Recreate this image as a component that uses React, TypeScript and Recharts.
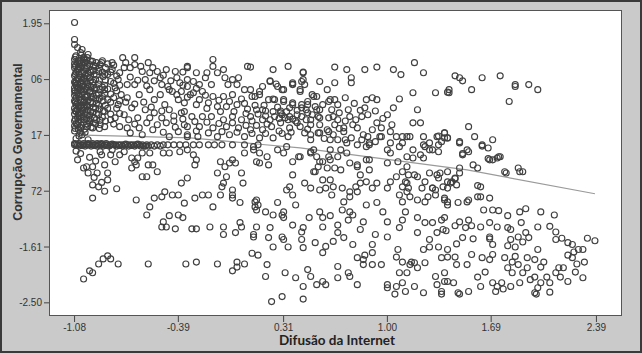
import React from 'react';
import { ScatterChart, Scatter, XAxis, YAxis } from 'recharts';

const xTicks = [-1.08, -0.39, 0.31, 1.0, 1.69, 2.39];
const xTickLabels = ['-1.08', '-0.39', '0.31', '1.00', '1.69', '2.39'];
const yTicks = [1.95, 1.06, 0.17, -0.72, -1.61, -2.5];
const yTickLabels = ['1.95', '06', '17', '72', '-1.61', '-2.50'];

const fitX = [-1.08, -0.31, 0.42, 1.53, 2.38];
const fitY = [0.18, 0.13, -0.03, -0.38, -0.76];

type P = [number, number];

const leftBlock: P[] = [
  [-1.08,1.97],[-1.08,1.70],[-1.08,1.62],[-1.06,1.57],[-1.04,1.49],[-1.03,1.54],[-0.99,1.46],[-1.02,1.41],
  [-1.08,1.38],[-1.08,1.25],[-1.08,1.12],[-1.08,1.02],[-1.08,0.93],[-1.08,0.81],[-1.08,0.72],[-1.08,0.60],[-1.08,0.51],[-1.08,0.40],[-1.08,0.32],[-1.08,1.31],[-1.08,0.88],
  [-1.07,1.44],[-1.07,1.18],[-1.07,0.97],[-1.07,0.76],[-1.07,0.55],[-1.07,0.36],[-1.07,1.05],[-1.07,0.66],
  [-1.06,1.33],[-1.06,1.21],[-1.06,1.09],[-1.06,0.99],[-1.06,0.85],[-1.06,0.69],[-1.06,0.58],[-1.06,0.45],[-1.06,0.34],[-1.06,0.92],
  [-1.05,1.40],[-1.05,1.15],[-1.05,0.79],[-1.05,0.62],[-1.05,0.48],[-1.05,1.27],
  [-1.04,1.36],[-1.04,1.24],[-1.04,1.10],[-1.04,1.01],[-1.04,0.90],[-1.04,0.74],[-1.04,0.64],[-1.04,0.53],[-1.04,0.42],[-1.04,0.29],
  [-1.03,1.29],[-1.03,1.05],[-1.03,0.83],[-1.03,0.57],[-1.03,0.95],
  [-1.02,1.19],[-1.02,1.07],[-1.02,0.96],[-1.02,0.87],[-1.02,0.70],[-1.02,0.61],[-1.02,0.47],[-1.02,0.38],
  [-1.01,1.33],[-1.01,1.13],[-1.01,0.78],[-1.01,0.52],
  [-1.00,1.25],[-1.00,1.03],[-1.00,0.92],[-1.00,0.81],[-1.00,0.66],[-1.00,0.44],[-1.00,0.35],[-1.00,1.37],
  [-0.99,1.16],[-0.99,0.98],[-0.99,0.73],[-0.99,0.57],
  [-0.98,1.30],[-0.98,1.09],[-0.98,0.86],[-0.98,0.62],[-0.98,0.49],[-0.98,0.40],
  [-0.97,1.21],[-0.97,0.94],[-0.97,0.77],[-0.97,0.30],
  [-0.96,1.35],[-0.96,1.02],[-0.96,0.84],[-0.96,0.68],[-0.96,0.54],
  [-0.95,1.14],[-0.95,0.91],[-0.95,0.45],
  [-0.94,1.27],[-0.94,1.06],[-0.94,0.75],[-0.94,0.60],[-0.94,0.36],
  [-0.92,1.19],[-0.92,0.99],[-0.92,0.83],[-0.92,0.65],[-0.92,0.50],
  [-0.91,1.30],[-0.91,0.90],[-0.91,0.41],
  [-0.89,1.11],[-0.89,0.72],[-0.89,0.56],
  [-0.88,0.97],[-0.88,0.84],[-0.88,0.31],
  [-1.08,0.24],[-1.04,0.22],[-1.03,0.18],[-0.96,0.29],[-0.98,0.37],[-0.91,0.34],[-0.84,0.42],[-0.78,0.31],
  [-0.73,0.29],[-0.71,0.21],[-0.65,0.29],[-0.60,0.37],[-0.53,0.34],[-0.47,0.37],[-0.45,0.15],[-0.39,0.23],
  [-0.35,0.34],[-0.33,0.15],[-0.63,0.18],[-1.07,0.12],[-1.05,0.16],[-1.01,0.22],[-0.99,0.10],
];

const leftBlockInfill: P[] = [
  [-1.075,1.42],[-1.075,1.28],[-1.075,1.15],[-1.075,1.00],[-1.075,0.85],[-1.075,0.70],[-1.075,0.56],[-1.075,0.43],[-1.075,0.28],
  [-1.055,1.36],[-1.055,1.23],[-1.055,1.06],[-1.055,0.94],[-1.055,0.82],[-1.055,0.64],[-1.055,0.51],[-1.055,0.39],[-1.055,0.27],
  [-1.035,1.45],[-1.035,1.33],[-1.035,1.18],[-1.035,1.02],[-1.035,0.89],[-1.035,0.73],[-1.035,0.60],[-1.035,0.46],[-1.035,0.33],
  [-1.015,1.39],[-1.015,1.24],[-1.015,1.08],[-1.015,0.91],[-1.015,0.74],[-1.015,0.63],[-1.015,0.42],[-1.015,0.27],
  [-0.995,1.41],[-0.995,1.28],[-0.995,1.11],[-0.995,0.95],[-0.995,0.79],[-0.995,0.64],[-0.995,0.50],[-0.995,0.31],
  [-0.975,1.36],[-0.975,1.18],[-0.975,1.04],[-0.975,0.88],[-0.975,0.70],[-0.975,0.55],[-0.975,0.43],
  [-0.955,1.29],[-0.955,1.20],[-0.955,0.97],[-0.955,0.79],[-0.955,0.62],[-0.955,0.37],
  [-0.935,1.33],[-0.935,1.13],[-0.935,0.93],[-0.935,0.81],[-0.935,0.68],[-0.935,0.52],[-0.935,0.42],
  [-0.915,1.24],[-0.915,1.05],[-0.915,0.76],[-0.915,0.59],[-0.915,0.28],
  [-0.895,1.36],[-0.895,1.18],[-0.895,0.94],[-0.895,0.79],[-0.895,0.46],
  [-0.875,1.25],[-0.875,1.05],[-0.875,0.65],[-0.875,0.40],
  [-0.86,1.31],[-0.86,1.14],[-0.86,0.91],[-0.86,0.60],
  [-0.84,1.18],[-0.84,0.83],[-0.84,0.70],[-0.84,0.51],
  [-0.82,1.29],[-0.82,1.00],[-0.82,0.77],[-0.82,0.35],
  [-0.80,1.12],[-0.80,0.88],[-0.80,0.60],
  [-0.78,0.97],[-0.78,0.72],[-0.78,0.52],
];

const zeroBand: P[] = [
  [-1.08,0.02],[-1.06,0.02],[-1.04,0.02],[-1.02,0.02],[-1.00,0.02],[-0.98,0.02],[-0.96,0.02],[-0.94,0.02],
  [-0.92,0.02],[-0.90,0.02],[-0.88,0.02],[-0.86,0.02],[-0.84,0.02],[-0.82,0.02],[-0.81,0.02],[-0.79,0.02],
  [-0.77,0.02],[-0.75,0.02],[-0.73,0.02],[-0.71,0.02],[-0.69,0.02],[-0.67,0.02],[-0.65,0.02],[-0.63,0.02],
  [-0.60,0.02],[-0.57,0.02],[-0.53,0.02],[-0.49,0.02],[-0.46,0.02],[-0.42,0.02],[-0.38,0.02],[-0.34,0.02],
  [-0.29,0.02],[-0.25,0.02],[-0.19,0.02],[-0.15,0.02],[-0.10,0.02],[-0.03,0.02],[0.05,0.02],[0.14,0.02],
  [-1.07,0.03],[-1.03,0.01],[-0.99,0.03],[-0.95,0.01],[-0.91,0.03],[-0.87,0.01],[-0.83,0.03],[-0.78,0.01],
  [-0.74,0.03],[-0.70,0.01],[-0.66,0.03],
  [-1.05,0.00],[-1.01,0.00],[-0.97,0.00],[-0.93,0.00],[-0.89,0.00],[-0.85,0.00],[-0.80,0.00],[-0.76,0.00],
  [-0.72,0.00],[-0.68,0.00],[-0.64,0.00],[-0.62,0.00],[-0.61,0.00],[-0.59,0.00],[-0.55,0.00],[-0.51,0.00],
  [-1.08,0.04],[-1.05,0.04],[-1.02,0.04],[-0.99,0.04],[-0.96,0.04],[-0.93,0.04],[-0.90,0.04],[-0.87,0.04],
];

const lowerLeft: P[] = [
  [-1.06,-0.22],[-1.02,-0.35],[-1.00,-0.33],[-0.96,-0.33],[-0.93,-0.43],[-0.99,-0.43],[-0.96,-0.62],[-0.92,-0.65],
  [-0.96,-0.83],[-0.86,-0.54],[-0.86,-0.43],[-0.90,-0.14],[-0.84,-0.14],[-0.81,-0.25],[-0.78,-0.14],[-0.80,-0.68],
  [-0.70,-0.19],[-0.68,-0.25],[-0.70,-0.35],[-0.67,-0.30],[-0.63,-0.11],[-0.58,-0.11],[-0.59,-0.30],[-0.56,-0.30],
  [-0.53,-0.41],[-0.63,-0.49],[-0.60,-0.49],[-0.67,-0.86],[-0.58,-0.97],[-0.60,-1.10],[-0.55,-0.83],[-0.50,-0.81],
  [-0.48,-0.73],[-0.43,-0.78],[-0.39,-0.78],[-0.37,-0.59],[-0.33,-0.51],[-0.49,-0.11],[-0.45,-0.11],[-0.38,-0.09],
  [-0.33,-0.06],[-0.27,-0.22],[-0.28,-0.30],[-0.47,-1.29],[-0.49,-1.21],[-0.45,-1.11],[-0.39,-1.10],[-0.36,-1.14],
  [-0.41,-1.32],[-0.50,-1.29],[-0.30,-1.32],[-0.27,-1.32],[-0.18,-1.29],[-0.16,-0.97],[-0.11,-0.78],[-0.09,-1.29],
  [-0.09,-1.41],[-0.01,-1.38],[0.03,-1.29],[0.02,-1.22],[0.11,-1.45],[0.10,-1.71],[0.14,-1.74],[-0.19,-0.78],
  [-0.23,-0.78],[-0.28,-0.83],[-0.35,-0.91],[-0.13,-0.43],[-0.07,-0.49],[0.03,-0.43],[0.04,-0.59],[-0.03,-0.70],
  [-0.03,-0.78],[0.02,-0.90],[0.12,-0.97],[0.13,-0.86],[-0.03,-0.22],[-0.01,-0.27],[0.05,-0.11],[-0.11,-0.25],
  [-0.08,-0.33],[-0.05,-0.27],[-0.29,-0.14],[-0.09,-0.59],[-0.10,-0.65],[-0.03,-0.83],
  [-1.02,-2.12],[-0.98,-1.99],[-0.96,-2.02],[-0.92,-1.88],[-0.89,-1.80],[-0.86,-1.75],[-0.84,-1.80],[-0.79,-1.88],
  [-0.59,-1.88],[-0.34,-1.88],[-0.27,-1.85],[-0.13,-1.88],[0.00,-1.85],[0.00,-1.93],[-0.03,-1.99],[0.05,-1.88],
  [-0.91,-0.09],[-0.83,-0.06],[-0.75,-0.09],[-0.66,-0.19],
  [-1.07,-0.08],[-1.04,-0.12],[-0.98,-0.18],[-0.94,-0.24],[-0.88,-0.30],[-0.95,-0.50],[-0.90,-0.58],[-0.88,-0.72],
];

const upperMiddle: P[] = [
  [-0.90,1.33],[-0.83,1.33],[-0.76,1.41],[-0.68,1.41],[-0.68,1.30],[-0.59,1.33],[-0.71,1.25],[-0.78,1.17],
  [-0.63,1.19],[-0.53,1.19],[-0.47,1.22],[-0.41,1.19],[-0.33,1.25],[-0.58,1.17],[-0.51,1.09],[-0.40,1.09],
  [-0.46,0.95],[-0.38,1.01],[-0.33,1.06],
  [-0.88,1.14],[-0.84,1.03],[-0.88,0.90],[-0.81,0.93],[-0.77,0.82],[-0.86,0.74],[-0.79,0.66],[-0.73,0.77],
  [-0.68,0.98],[-0.65,0.82],[-0.61,1.06],[-0.58,0.90],[-0.55,0.74],[-0.70,0.61],[-0.61,0.58],[-0.51,0.82],
  [-0.48,0.66],[-0.43,0.87],[-0.39,0.74],[-0.88,0.55],[-0.81,0.45],[-0.75,0.50],[-0.66,0.45],[-0.55,0.53],
  [-0.45,0.58],[-0.35,0.55],[-0.73,0.98],[-0.79,1.06],[-0.50,0.98],[-0.31,0.82],[-0.83,1.22],[-0.75,1.25],
  [-0.16,1.38],[-0.16,1.27],[0.07,1.27],[-0.09,1.22],[0.24,1.22],[0.34,1.27],[0.44,1.18],[-0.33,1.27],
  [-0.36,1.18],[-0.27,1.17],[-0.20,1.17],[-0.13,1.17],[-0.08,1.09],[-0.03,1.06],[0.01,1.09],[-0.21,1.09],
  [-0.29,1.03],[-0.25,0.98],[-0.33,0.95],[-0.17,0.98],[-0.06,0.98],[0.00,0.98],[0.05,0.90],[0.09,0.90],
  [0.17,0.95],[0.22,1.03],[0.27,0.95],[0.31,0.90],[0.37,0.98],[0.37,1.01],[0.43,1.03],[0.45,0.98],
  [0.55,1.03],[0.42,0.87],[0.51,0.79],[0.53,0.79],[0.60,0.90],[0.61,0.71],[-0.37,0.87],[-0.29,0.85],
  [-0.23,0.87],[-0.16,0.79],[-0.09,0.79],[-0.03,0.82],[0.03,0.75],[0.10,0.79],[0.15,0.82],[0.21,0.74],
  [0.25,0.74],[0.31,0.74],[0.37,0.69],[0.43,0.66],[0.47,0.66],[-0.35,0.69],[-0.27,0.66],[-0.19,0.69],
  [-0.13,0.63],[-0.07,0.63],[0.00,0.66],[0.07,0.59],[0.13,0.58],[0.19,0.56],[0.24,0.55],[0.29,0.56],
  [0.33,0.55],[0.32,0.45],[0.35,0.47],[0.40,0.50],[0.43,0.47],[0.50,0.50],[0.53,0.58],[0.55,0.45],
  [-0.37,0.53],[-0.30,0.47],[-0.23,0.47],[-0.17,0.47],[-0.09,0.42],[-0.03,0.47],[0.03,0.42],[0.09,0.47],
  [0.17,0.42],[0.22,0.42],[0.29,0.37],[0.35,0.29],[0.42,0.31],[0.49,0.34],[0.60,0.26],[-0.33,0.31],
  [-0.25,0.31],[-0.16,0.29],[-0.07,0.31],[0.01,0.29],[0.09,0.26],[0.17,0.26],[0.23,0.31],[-0.33,0.18],
  [-0.26,0.15],[-0.13,0.15],[-0.05,0.18],[0.05,0.15],[0.15,0.13],[0.24,0.13],[0.34,0.15],
  [0.14,0.51],[0.19,0.48],[0.25,0.47],[0.30,0.50],[0.37,0.43],[0.39,0.40],
  [0.09,1.26],[0.44,1.17],[0.22,1.04],[0.26,0.99],[0.37,0.99],[0.30,0.90],[0.15,0.87],[0.12,0.79],
  [0.24,0.75],[0.31,0.71],[0.37,0.66],[0.43,0.61],[0.17,0.58],[0.29,0.53],[0.34,0.42],[0.47,0.53],
  [0.49,0.42],[0.54,0.47],[0.44,1.06],[0.42,0.90],[0.50,0.82],[0.47,0.71],[0.52,0.63],[0.55,0.58],
  [0.55,0.34],[0.49,0.18],[0.54,0.21],[0.62,0.74],[0.65,0.74],[0.67,0.66],[0.63,0.58],[0.61,0.45],
  [0.64,0.47],[0.67,0.42],[0.65,0.34],[0.61,0.23],[0.65,1.26],[0.65,1.01],[0.73,1.22],[0.76,1.09],
  [0.76,1.01],[0.85,1.22],[0.93,1.26],[0.72,0.77],[0.74,0.58],[0.75,0.47],[0.77,0.34],[0.71,0.29],
  [0.72,0.10],[0.67,0.10],[0.62,0.10],[0.86,0.74],[0.90,0.77],[0.93,0.74],[0.85,0.61],[0.83,0.47],
  [0.87,0.50],[0.80,0.29],[0.84,0.18],[0.90,0.26],[0.96,0.29],[0.96,0.15],[0.88,0.05],[0.86,-0.01],
  [1.04,1.22],[1.09,1.14],[1.08,0.75],[1.04,0.61],[1.03,0.34],[1.02,0.23],[1.06,0.15],[1.10,0.15],
  [1.15,0.15],[1.18,1.33],[1.24,1.17],[1.17,0.85],[1.20,0.58],[1.17,0.37],[1.22,0.37],[1.32,0.85],
  [1.40,0.86],[1.24,0.15],[1.34,0.16],[1.38,0.13],[1.10,0.05],[1.25,-0.01],[1.30,-0.06],
];

const middleInfill: P[] = [
  [-0.74,1.33],[-0.64,1.27],[-0.56,1.25],[-0.49,1.13],[-0.44,1.04],[-0.36,0.97],[-0.27,0.92],[-0.21,0.81],
  [-0.12,0.73],[-0.05,0.71],[0.05,0.68],[0.12,0.65],[0.18,0.65],[0.27,0.62],[0.35,0.61],[0.40,0.57],[0.46,0.58],
  [-0.71,1.10],[-0.66,1.05],[-0.60,0.96],[-0.55,1.04],[-0.45,0.90],[-0.40,0.82],[-0.33,0.78],[-0.25,0.74],
  [-0.20,0.60],[-0.11,0.55],[-0.02,0.55],[0.06,0.52],[0.10,0.40],[0.20,0.35],[0.28,0.44],[0.40,0.37],[0.46,0.42],
  [-0.74,0.70],[-0.68,0.67],[-0.62,0.70],[-0.57,0.62],[-0.50,0.56],[-0.42,0.48],[-0.36,0.43],[-0.28,0.39],
  [-0.20,0.38],[-0.12,0.36],[-0.03,0.37],[0.06,0.33],[0.13,0.33],[0.28,0.24],[0.36,0.22],
  [-0.72,0.42],[-0.68,0.35],[-0.58,0.45],[-0.50,0.45],[-0.42,0.40],[-0.56,0.26],[-0.49,0.22],[-0.41,0.30],
  [-0.27,0.24],[-0.19,0.21],[-0.10,0.23],[0.00,0.22],[0.10,0.20],[0.19,0.20],[0.30,0.20],
  [0.57,0.66],[0.68,0.53],[0.72,0.40],[0.79,0.42],[0.82,0.57],[0.78,0.68],[0.92,0.56],[0.97,0.44],
  [0.93,0.37],[1.00,0.50],[0.58,0.12],[0.76,0.13],[0.92,0.07],[0.68,0.28],[0.47,0.27],
];

const centre: P[] = [
  [0.11,-0.01],[0.15,-0.11],[0.20,-0.17],[0.27,-0.06],[0.33,-0.01],[0.42,-0.17],[0.51,-0.06],[0.49,-0.11],
  [0.53,-0.17],[0.62,-0.06],[0.69,-0.06],[0.73,0.05],
  [0.11,-0.06],[0.13,-0.25],[0.15,-0.27],[0.21,-0.30],[0.31,-0.11],[0.37,-0.25],[0.41,-0.17],[0.49,-0.09],
  [0.55,-0.25],[0.62,-0.22],[0.52,-0.41],[0.60,-0.35],[0.65,-0.35],[0.75,-0.27],[0.80,-0.30],[0.88,-0.22],
  [0.73,-0.11],[1.00,-0.06],[1.00,-0.27],[1.07,-0.25],[1.13,-0.33],[1.10,-0.41],[1.17,-0.19],[1.24,-0.19],
  [1.28,-0.06],[1.34,-0.09],[1.06,-0.49],[1.12,-0.57],[1.14,-0.67],[1.20,-0.49],[1.25,-0.57],[1.28,-0.43],
  [1.33,-0.46],[1.30,-0.67],[1.32,-0.70],[1.37,-0.65],[1.40,-0.57],[0.37,-0.46],[0.35,-0.65],[0.33,-0.70],
  [0.37,-0.78],[0.39,-0.94],[0.27,-0.90],[0.12,-0.89],[0.14,-0.94],[0.13,-1.02],[0.19,-1.05],[0.24,-1.10],
  [0.30,-1.10],[0.31,-1.05],[0.31,-1.14],[0.37,-1.26],[0.44,-1.30],[0.48,-1.14],[0.55,-1.05],[0.57,-1.14],
  [0.62,-1.11],[0.57,-1.29],[0.67,-1.26],[0.70,-1.02],[0.75,-1.05],[0.77,-1.10],[0.74,-1.18],[0.84,-1.21],
  [0.86,-0.94],[0.93,-0.90],[0.97,-1.05],[0.82,-1.33],[1.00,-1.21],[1.10,-1.18],[1.08,-1.30],[1.12,-1.05],
  [1.20,-1.14],[1.25,-1.22],[1.30,-1.22],[1.36,-1.18],[1.20,-1.38],[1.28,-1.49],[1.33,-1.38],[1.37,-1.33],
  [1.40,-1.65],[1.34,-1.61],[1.36,-1.78],[1.28,-1.61],[1.24,-1.65],[1.18,-1.86],[1.15,-1.89],[1.20,-1.94],
  [1.25,-1.86],[1.07,-1.65],[1.06,-1.77],[1.10,-1.85],[1.13,-2.02],[0.92,-1.41],[1.00,-1.45],[0.90,-1.57],
  [0.90,-1.70],[0.85,-1.74],[0.84,-1.81],[0.80,-1.78],[0.77,-1.57],[0.71,-1.46],[0.67,-1.38],[0.64,-1.52],
  [0.59,-1.60],[0.57,-1.70],[0.52,-1.54],[0.44,-1.62],[0.43,-1.49],[0.43,-1.37],[0.30,-1.45],[0.24,-1.61],
  [0.31,-1.49],[0.34,-1.61],[0.22,-1.30],[0.13,-1.29],[0.11,-1.41],[0.21,-1.46],[0.20,-1.89],[0.19,-2.08],
  [0.32,-2.02],[0.39,-2.10],[0.47,-1.97],[0.49,-2.08],[0.44,-2.24],[0.53,-2.21],[0.57,-2.16],[0.59,-2.21],
  [0.67,-1.92],[0.67,-2.10],[0.74,-2.02],[0.75,-2.08],[0.80,-2.21],[0.84,-1.89],[0.90,-1.89],[0.96,-1.89],
  [1.00,-2.21],[1.00,-2.26],[1.06,-2.24],[1.10,-2.18],[1.12,-2.32],[1.18,-2.24],[1.24,-2.34],[1.33,-2.21],
  [1.32,-2.08],[1.38,-2.16],[1.36,-2.32],[1.08,-2.02],[1.16,-1.85],[0.30,-2.40],[0.23,-2.48],[0.44,-2.44],
  [1.05,-2.36],[1.36,-2.36],
  [0.45,0.21],[0.49,0.10],[0.55,0.21],[0.64,0.18],[0.71,0.23],[0.80,0.02],[0.83,0.10],[0.87,0.15],
  [0.88,0.02],[0.95,0.15],[1.02,0.05],[1.13,0.15],[1.08,-0.01],[1.02,-0.11],[1.13,-0.17],[1.17,-0.06],
  [1.22,-0.14],[1.24,0.02],[1.28,0.05],[1.33,0.15],[1.40,0.13],[1.34,0.02],[1.38,0.21],
  [1.34,-0.51],[1.30,-0.67],[1.23,-0.67],[1.27,-0.81],[1.32,-0.78],[1.38,-0.83],[1.40,-0.89],[1.18,-0.46],
  [1.14,-0.46],[1.13,-0.73],[1.02,-0.57],[1.13,-0.59],[1.10,-0.65],[1.08,-0.78],[1.15,-0.81],[1.20,-0.86],
  [1.25,-0.89],[1.10,-0.89],[1.00,-0.67],[0.93,-0.59],[0.90,-0.67],[0.86,-0.57],[0.82,-0.59],[0.79,-0.65],
  [0.80,-0.73],[0.75,-0.73],[0.75,-0.81],[0.71,-0.89],[0.70,-0.67],[0.64,-0.65],[0.63,-0.78],[0.59,-0.67],
  [0.55,-0.70],[0.49,-0.67],[0.45,-0.59],[0.51,-0.41],[0.54,-0.33],[0.57,-0.25],[0.61,-0.17],[0.67,-0.17],
  [0.69,-0.38],[0.62,-0.54],[0.57,-0.54],[0.80,-0.33],[0.86,-0.22],[0.88,-0.38],[0.82,-0.46],
];

const rightSide: P[] = [
  [1.45,1.12],[1.48,1.09],[1.50,1.04],[1.63,1.09],[1.75,1.12],[1.41,0.90],[1.41,0.85],[1.56,0.90],
  [1.85,0.98],[1.85,0.95],[1.94,0.98],[2.00,0.90],[1.81,0.71],[1.54,0.31],[1.38,0.21],[1.40,0.13],
  [1.36,0.07],[1.58,0.15],[1.70,0.10],[1.48,0.07],[1.63,0.00],[1.67,-0.03],[1.50,-0.12],[1.54,-0.09],
  [1.67,-0.20],[1.74,-0.17],
  [1.48,0.05],[1.68,-0.22],[1.57,-0.30],[1.60,-0.35],[1.48,-0.35],[1.40,-0.41],[1.35,-0.43],[1.45,-0.52],
  [1.42,-0.59],[1.40,-0.67],[1.60,-0.63],[1.62,-0.81],[1.68,-0.83],[1.54,-0.86],[1.47,-0.90],[1.38,-0.86],
  [1.40,-0.94],[1.87,-0.35],[1.88,-0.41],[1.79,-0.43],[1.90,-0.41],[1.64,-1.02],[1.70,-1.02],[1.74,-1.03],
  [1.80,-1.11],[1.88,-1.05],[1.92,-1.00],[2.02,-1.05],[2.11,-1.10],[1.54,-1.18],[1.48,-1.21],[1.38,-1.14],
  [1.45,-1.27],[1.52,-1.30],[1.56,-1.27],[1.62,-1.29],[1.68,-1.22],[1.73,-1.29],[1.80,-1.30],[1.82,-1.33],
  [1.89,-1.22],[1.92,-1.38],[2.00,-1.29],[2.08,-1.28],[2.12,-1.37],[2.16,-1.47],[2.33,-1.47],[2.38,-1.51],
  [1.68,-1.45],[1.68,-1.48],[1.70,-1.57],[1.57,-1.48],[1.50,-1.46],[1.39,-1.35],[1.46,-1.56],[1.82,-1.49],
  [1.87,-1.45],[1.90,-1.53],[1.94,-1.46],[2.00,-1.65],[1.85,-1.61],[1.80,-1.59],[2.12,-1.49],[2.20,-1.54],
  [2.23,-1.57],[2.27,-1.65],[2.24,-1.69],[2.20,-1.74],[2.23,-1.78],[2.30,-1.65],[2.31,-1.85],[2.26,-1.88],
  [2.17,-1.94],[2.14,-1.94],[2.12,-2.02],[2.15,-2.09],[2.25,-2.01],[2.20,-2.16],[2.30,-2.10],[2.06,-2.09],
  [2.08,-2.18],[2.02,-2.18],[1.98,-2.09],[1.93,-1.94],[1.87,-1.89],[1.83,-1.85],[1.80,-1.94],[1.83,-2.02],
  [1.90,-2.02],[1.95,-2.13],[1.88,-2.18],[1.82,-2.24],[1.76,-2.18],[1.70,-2.18],[1.73,-2.24],[1.77,-2.28],
  [1.65,-2.01],[1.60,-2.09],[1.62,-2.24],[1.54,-2.32],[1.47,-2.34],[1.68,-1.81],[1.70,-1.73],[1.56,-1.73],
  [1.53,-1.89],[1.46,-1.89],[1.45,-1.77],[1.40,-1.77],[1.38,-2.02],[1.40,-2.16],[1.44,-2.18],[2.00,-2.26],
  [1.98,-2.34],[2.08,-2.33],[1.63,-1.78],[1.78,-1.78],[1.85,-1.76],[1.93,-1.78],[1.98,-1.81],[2.02,-1.93],
  [2.04,-1.85],[1.48,-2.36],[1.72,-2.32],[1.99,-2.36],
  [1.53,-0.06],[1.50,-0.14],[1.63,0.02],[1.70,-0.22],[1.73,-0.19],[1.75,-0.17],[1.48,-0.43],[1.43,-0.57],
  [1.45,-0.51],[1.46,-0.62],[1.53,-0.89],[1.62,-0.65],[1.60,-0.81],[1.78,-0.41],
];

const toPts = (arr: P[]) => arr.map(([x, y]) => ({ x, y }));
const points = toPts([
  ...leftBlock, ...leftBlockInfill, ...zeroBand, ...lowerLeft,
  ...upperMiddle, ...middleInfill, ...centre, ...rightSide,
]);
const fitLine = fitX.map((x, i) => ({ x, y: fitY[i] }));

const fmtX = (v: number) => {
  const i = xTicks.indexOf(v);
  return i >= 0 ? xTickLabels[i] : String(v);
};
const fmtY = (v: number) => {
  const i = yTicks.indexOf(v);
  return i >= 0 ? yTickLabels[i] : String(v);
};

const Ring = (p: any) => (
  <circle cx={p.cx} cy={p.cy} r={3} fill="none" stroke="#404040" strokeWidth={1.15} />
);
const NoShape = () => <g />;
const NoTick = () => <g />;

const tickFont = {
  fontSize: 10,
  fill: '#333',
  fontFamily: '"Liberation Sans Narrow", "Liberation Sans", Arial, sans-serif',
};

export default function App() {
  return (
    <div style={{ position: 'absolute', left: 0, top: 0, width: 642, height: 353, background: '#cacaca', overflow: 'hidden' }}>
      <div style={{ position: 'absolute', left: 49, top: 10, width: 573, height: 306, background: '#fff', boxSizing: 'border-box', border: '1.5px solid #555' }} />
      <ScatterChart
        width={642}
        height={353}
        margin={{ top: 10, right: 20, bottom: 0, left: 0 }}
        style={{ position: 'absolute', left: 0, top: 0 }}
      >
        <XAxis xAxisId="b" dataKey="x" type="number" domain={[-1.25, 2.56]} ticks={xTicks} interval={0}
          tickFormatter={fmtX} height={37} tickSize={6} tickMargin={2} axisLine={false}
          tickLine={{ stroke: '#444' }} tick={tickFont} allowDataOverflow />
        <XAxis xAxisId="t" orientation="top" dataKey="x" type="number" domain={[-1.25, 2.56]} ticks={xTicks} interval={0}
          height={0} mirror tickSize={5} axisLine={false} tickLine={{ stroke: '#444' }} tick={NoTick} allowDataOverflow />
        <YAxis yAxisId="l" dataKey="y" type="number" domain={[-2.71, 2.17]} ticks={yTicks} interval={0}
          tickFormatter={fmtY} width={49} tickSize={5} tickMargin={2} axisLine={false}
          tickLine={{ stroke: '#444' }} tick={tickFont} allowDataOverflow />
        <YAxis yAxisId="r" orientation="right" dataKey="y" type="number" domain={[-2.71, 2.17]} ticks={yTicks} interval={0}
          width={0} mirror tickSize={5} axisLine={false} tickLine={{ stroke: '#444' }} tick={NoTick} allowDataOverflow />
        <Scatter data={fitLine} xAxisId="b" yAxisId="l" line={{ stroke: '#9a9a9a', strokeWidth: 1.2 }} shape={NoShape} isAnimationActive={false} />
        <Scatter data={points} xAxisId="b" yAxisId="l" shape={Ring} isAnimationActive={false} />
      </ScatterChart>
      <div style={{ position: 'absolute', left: 0, top: 0, width: 642, height: 353, boxSizing: 'border-box', border: '2px solid #3a3a3a', pointerEvents: 'none' }} />
      <div style={{ position: 'absolute', left: 18, top: 142, transform: 'translate(-50%, -50%) rotate(-90deg)', whiteSpace: 'nowrap', fontFamily: '"Liberation Sans", Arial, sans-serif', fontWeight: 'bold', fontSize: 12.5, color: '#333' }}>
        Corrupção Governamental
      </div>
      <div style={{ position: 'absolute', left: 337, top: 340, transform: 'translate(-50%, -50%)', whiteSpace: 'nowrap', fontFamily: 'Lato, "Open Sans", sans-serif', fontWeight: 'bold', fontSize: 13.5, color: '#222' }}>
        Difusão da Internet
      </div>
    </div>
  );
}
